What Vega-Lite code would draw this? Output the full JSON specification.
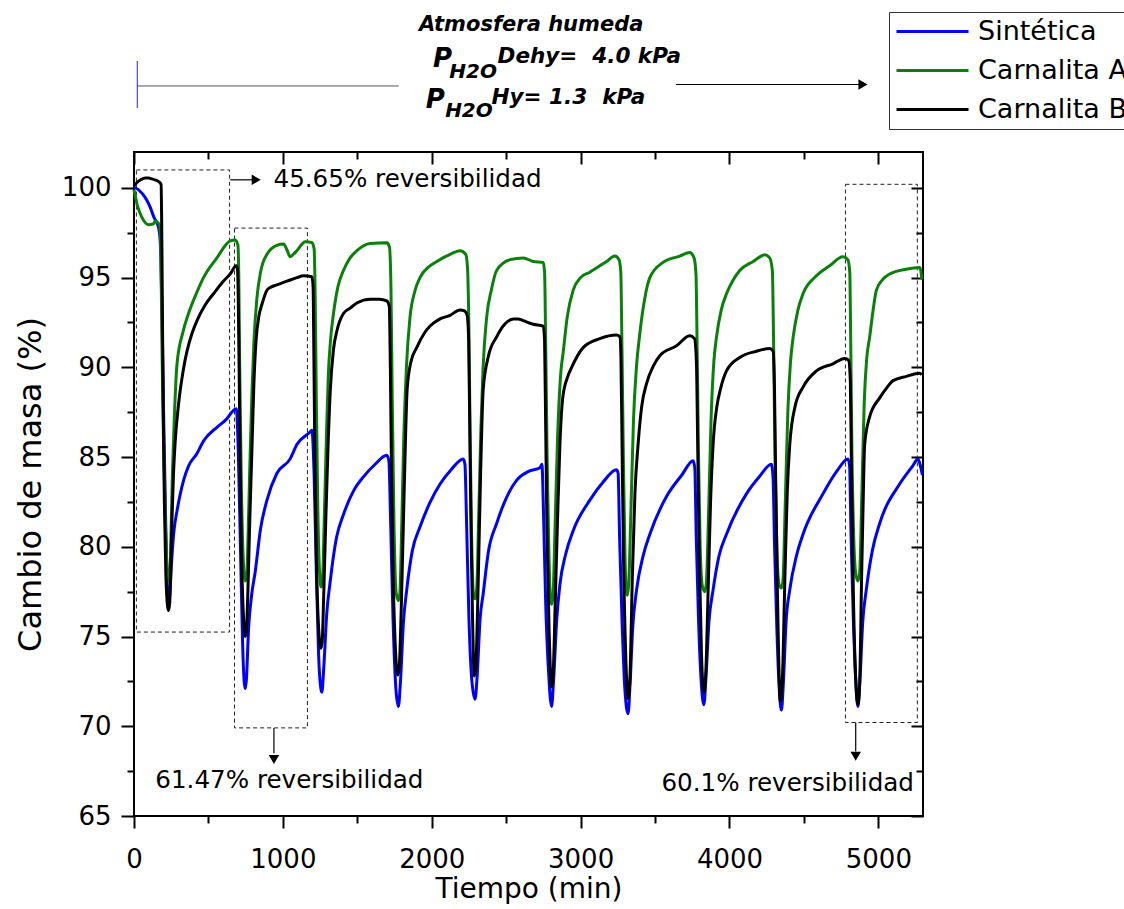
{
"$schema": "https://vega.github.io/schema/vega-lite/v6.json",
"width": 789, "height": 664,
"autosize": {"type": "none"},
"padding": {"left": 134, "top": 152, "right": 201, "bottom": 93},
"background": "white",
"config": {
 "view": {"stroke": "black", "strokeWidth": 2},
 "font": "DejaVu Sans",
 "axis": {"grid": false, "domain": false, "labelFlush": false, "tickColor": "black", "tickWidth": 2, "labelColor": "black", "titleColor": "black", "labelFont": "DejaVu Sans", "titleFont": "DejaVu Sans", "labelFontSize": 26, "titleFontSize": 28, "titleFontWeight": "normal"}
},
"datasets": {
 "curvas": [
{"serie":"Sintética","t":0,"v":100.0},{"serie":"Sintética","t":20,"v":99.95},{"serie":"Sintética","t":42,"v":99.8},{"serie":"Sintética","t":64,"v":99.6},{"serie":"Sintética","t":87,"v":99.3},{"serie":"Sintética","t":110,"v":98.9},{"serie":"Sintética","t":132,"v":98.4},{"serie":"Sintética","t":150,"v":98.1},{"serie":"Sintética","t":165,"v":97.8},{"serie":"Sintética","t":177,"v":96.9},{"serie":"Sintética","t":190,"v":92.0},{"serie":"Sintética","t":201,"v":86.5},{"serie":"Sintética","t":215,"v":80.5},{"serie":"Sintética","t":225,"v":77.5},{"serie":"Sintética","t":232,"v":76.7},{"serie":"Sintética","t":240,"v":77.3},{"serie":"Sintética","t":255,"v":79.5},{"serie":"Sintética","t":270,"v":81.0},{"serie":"Sintética","t":289,"v":82.0},{"serie":"Sintética","t":333,"v":83.7},{"serie":"Sintética","t":366,"v":84.5},{"serie":"Sintética","t":423,"v":85.2},{"serie":"Sintética","t":467,"v":85.9},{"serie":"Sintética","t":557,"v":86.66},{"serie":"Sintética","t":620,"v":87.1},{"serie":"Sintética","t":668,"v":87.6},{"serie":"Sintética","t":687,"v":87.7},{"serie":"Sintética","t":700,"v":85.5},{"serie":"Sintética","t":715,"v":80.0},{"serie":"Sintética","t":730,"v":74.5},{"serie":"Sintética","t":740,"v":72.5},{"serie":"Sintética","t":747,"v":72.1},{"serie":"Sintética","t":755,"v":72.6},{"serie":"Sintética","t":770,"v":75.5},{"serie":"Sintética","t":790,"v":77.3},{"serie":"Sintética","t":814,"v":78.6},{"serie":"Sintética","t":850,"v":81.0},{"serie":"Sintética","t":893,"v":82.6},{"serie":"Sintética","t":960,"v":84.1},{"serie":"Sintética","t":1049,"v":84.9},{"serie":"Sintética","t":1094,"v":85.7},{"serie":"Sintética","t":1183,"v":86.4},{"serie":"Sintética","t":1195,"v":86.5},{"serie":"Sintética","t":1210,"v":84.0},{"serie":"Sintética","t":1225,"v":78.5},{"serie":"Sintética","t":1240,"v":74.0},{"serie":"Sintética","t":1255,"v":72.1},{"serie":"Sintética","t":1262,"v":71.9},{"serie":"Sintética","t":1275,"v":73.3},{"serie":"Sintética","t":1295,"v":76.3},{"serie":"Sintética","t":1317,"v":78.0},{"serie":"Sintética","t":1360,"v":80.5},{"serie":"Sintética","t":1407,"v":81.8},{"serie":"Sintética","t":1480,"v":83.2},{"serie":"Sintética","t":1541,"v":83.9},{"serie":"Sintética","t":1620,"v":84.6},{"serie":"Sintética","t":1698,"v":85.1},{"serie":"Sintética","t":1712,"v":84.8},{"serie":"Sintética","t":1725,"v":81.0},{"serie":"Sintética","t":1740,"v":76.0},{"serie":"Sintética","t":1760,"v":72.0},{"serie":"Sintética","t":1776,"v":71.1},{"serie":"Sintética","t":1790,"v":72.5},{"serie":"Sintética","t":1810,"v":75.8},{"serie":"Sintética","t":1832,"v":77.6},{"serie":"Sintética","t":1870,"v":79.8},{"serie":"Sintética","t":1921,"v":81.1},{"serie":"Sintética","t":1990,"v":82.5},{"serie":"Sintética","t":2056,"v":83.5},{"serie":"Sintética","t":2130,"v":84.3},{"serie":"Sintética","t":2212,"v":84.9},{"serie":"Sintética","t":2223,"v":84.6},{"serie":"Sintética","t":2235,"v":81.0},{"serie":"Sintética","t":2250,"v":76.0},{"serie":"Sintética","t":2270,"v":72.5},{"serie":"Sintética","t":2291,"v":71.5},{"serie":"Sintética","t":2305,"v":72.8},{"serie":"Sintética","t":2325,"v":76.0},{"serie":"Sintética","t":2346,"v":77.4},{"serie":"Sintética","t":2380,"v":79.7},{"serie":"Sintética","t":2436,"v":81.3},{"serie":"Sintética","t":2500,"v":82.7},{"serie":"Sintética","t":2570,"v":83.7},{"serie":"Sintética","t":2650,"v":84.2},{"serie":"Sintética","t":2727,"v":84.4},{"serie":"Sintética","t":2740,"v":84.6},{"serie":"Sintética","t":2752,"v":81.5},{"serie":"Sintética","t":2765,"v":77.0},{"serie":"Sintética","t":2785,"v":73.0},{"serie":"Sintética","t":2805,"v":71.1},{"serie":"Sintética","t":2818,"v":72.5},{"serie":"Sintética","t":2840,"v":76.0},{"serie":"Sintética","t":2861,"v":77.9},{"serie":"Sintética","t":2900,"v":79.6},{"serie":"Sintética","t":2950,"v":80.9},{"serie":"Sintética","t":3062,"v":82.6},{"serie":"Sintética","t":3150,"v":83.6},{"serie":"Sintética","t":3241,"v":84.3},{"serie":"Sintética","t":3252,"v":84.1},{"serie":"Sintética","t":3262,"v":80.5},{"serie":"Sintética","t":3278,"v":76.0},{"serie":"Sintética","t":3298,"v":72.0},{"serie":"Sintética","t":3319,"v":70.7},{"serie":"Sintética","t":3332,"v":72.3},{"serie":"Sintética","t":3350,"v":75.5},{"serie":"Sintética","t":3376,"v":77.6},{"serie":"Sintética","t":3420,"v":79.5},{"serie":"Sintética","t":3465,"v":80.7},{"serie":"Sintética","t":3577,"v":82.8},{"serie":"Sintética","t":3680,"v":84.0},{"serie":"Sintética","t":3756,"v":84.8},{"serie":"Sintética","t":3767,"v":84.4},{"serie":"Sintética","t":3777,"v":80.5},{"serie":"Sintética","t":3792,"v":76.0},{"serie":"Sintética","t":3810,"v":72.5},{"serie":"Sintética","t":3828,"v":71.2},{"serie":"Sintética","t":3842,"v":72.7},{"serie":"Sintética","t":3862,"v":75.8},{"serie":"Sintética","t":3890,"v":77.6},{"serie":"Sintética","t":3930,"v":79.5},{"serie":"Sintética","t":3980,"v":80.7},{"serie":"Sintética","t":4114,"v":82.95},{"serie":"Sintética","t":4200,"v":83.9},{"serie":"Sintética","t":4282,"v":84.6},{"serie":"Sintética","t":4293,"v":83.8},{"serie":"Sintética","t":4303,"v":80.0},{"serie":"Sintética","t":4318,"v":75.5},{"serie":"Sintética","t":4335,"v":72.0},{"serie":"Sintética","t":4349,"v":70.9},{"serie":"Sintética","t":4362,"v":72.4},{"serie":"Sintética","t":4380,"v":75.8},{"serie":"Sintética","t":4405,"v":77.6},{"serie":"Sintética","t":4450,"v":79.5},{"serie":"Sintética","t":4494,"v":80.7},{"serie":"Sintética","t":4628,"v":82.95},{"serie":"Sintética","t":4720,"v":84.2},{"serie":"Sintética","t":4796,"v":84.9},{"serie":"Sintética","t":4807,"v":84.5},{"serie":"Sintética","t":4817,"v":80.5},{"serie":"Sintética","t":4832,"v":76.0},{"serie":"Sintética","t":4850,"v":72.3},{"serie":"Sintética","t":4863,"v":71.1},{"serie":"Sintética","t":4876,"v":72.5},{"serie":"Sintética","t":4895,"v":75.8},{"serie":"Sintética","t":4919,"v":77.6},{"serie":"Sintética","t":4960,"v":79.8},{"serie":"Sintética","t":5009,"v":81.3},{"serie":"Sintética","t":5143,"v":83.5},{"serie":"Sintética","t":5230,"v":84.5},{"serie":"Sintética","t":5266,"v":84.9},{"serie":"Sintética","t":5280,"v":84.6},{"serie":"Sintética","t":5296,"v":84.0},
{"serie":"Carnalita A","t":0,"v":99.9},{"serie":"Carnalita A","t":10,"v":99.5},{"serie":"Carnalita A","t":20,"v":99.1},{"serie":"Carnalita A","t":40,"v":98.6},{"serie":"Carnalita A","t":64,"v":98.2},{"serie":"Carnalita A","t":98,"v":97.95},{"serie":"Carnalita A","t":130,"v":98.0},{"serie":"Carnalita A","t":143,"v":98.16},{"serie":"Carnalita A","t":155,"v":98.1},{"serie":"Carnalita A","t":170,"v":97.95},{"serie":"Carnalita A","t":178,"v":97.5},{"serie":"Carnalita A","t":184,"v":94.0},{"serie":"Carnalita A","t":190,"v":90.0},{"serie":"Carnalita A","t":200,"v":85.0},{"serie":"Carnalita A","t":212,"v":81.0},{"serie":"Carnalita A","t":222,"v":78.8},{"serie":"Carnalita A","t":232,"v":78.1},{"serie":"Carnalita A","t":240,"v":78.3},{"serie":"Carnalita A","t":248,"v":80.5},{"serie":"Carnalita A","t":258,"v":84.0},{"serie":"Carnalita A","t":270,"v":87.0},{"serie":"Carnalita A","t":289,"v":90.2},{"serie":"Carnalita A","t":330,"v":92.0},{"serie":"Carnalita A","t":366,"v":93.0},{"serie":"Carnalita A","t":423,"v":94.2},{"serie":"Carnalita A","t":467,"v":95.0},{"serie":"Carnalita A","t":557,"v":96.1},{"serie":"Carnalita A","t":646,"v":97.05},{"serie":"Carnalita A","t":680,"v":97.1},{"serie":"Carnalita A","t":698,"v":96.8},{"serie":"Carnalita A","t":704,"v":95.0},{"serie":"Carnalita A","t":710,"v":90.0},{"serie":"Carnalita A","t":720,"v":84.0},{"serie":"Carnalita A","t":733,"v":79.5},{"serie":"Carnalita A","t":747,"v":78.1},{"serie":"Carnalita A","t":757,"v":78.3},{"serie":"Carnalita A","t":766,"v":80.5},{"serie":"Carnalita A","t":778,"v":84.5},{"serie":"Carnalita A","t":792,"v":88.5},{"serie":"Carnalita A","t":806,"v":91.5},{"serie":"Carnalita A","t":825,"v":93.8},{"serie":"Carnalita A","t":850,"v":95.3},{"serie":"Carnalita A","t":893,"v":96.3},{"serie":"Carnalita A","t":960,"v":96.8},{"serie":"Carnalita A","t":1004,"v":96.87},{"serie":"Carnalita A","t":1030,"v":96.5},{"serie":"Carnalita A","t":1049,"v":96.16},{"serie":"Carnalita A","t":1070,"v":96.3},{"serie":"Carnalita A","t":1094,"v":96.5},{"serie":"Carnalita A","t":1150,"v":97.0},{"serie":"Carnalita A","t":1195,"v":96.96},{"serie":"Carnalita A","t":1210,"v":96.6},{"serie":"Carnalita A","t":1217,"v":94.0},{"serie":"Carnalita A","t":1225,"v":88.0},{"serie":"Carnalita A","t":1235,"v":82.0},{"serie":"Carnalita A","t":1247,"v":78.5},{"serie":"Carnalita A","t":1257,"v":77.76},{"serie":"Carnalita A","t":1266,"v":78.1},{"serie":"Carnalita A","t":1278,"v":81.5},{"serie":"Carnalita A","t":1292,"v":86.0},{"serie":"Carnalita A","t":1305,"v":89.5},{"serie":"Carnalita A","t":1320,"v":91.5},{"serie":"Carnalita A","t":1340,"v":93.0},{"serie":"Carnalita A","t":1370,"v":94.5},{"serie":"Carnalita A","t":1407,"v":95.4},{"serie":"Carnalita A","t":1452,"v":96.1},{"serie":"Carnalita A","t":1497,"v":96.5},{"serie":"Carnalita A","t":1586,"v":96.9},{"serie":"Carnalita A","t":1698,"v":96.94},{"serie":"Carnalita A","t":1716,"v":96.7},{"serie":"Carnalita A","t":1726,"v":94.5},{"serie":"Carnalita A","t":1735,"v":88.0},{"serie":"Carnalita A","t":1746,"v":81.5},{"serie":"Carnalita A","t":1760,"v":77.5},{"serie":"Carnalita A","t":1776,"v":77.0},{"serie":"Carnalita A","t":1786,"v":77.4},{"serie":"Carnalita A","t":1798,"v":81.0},{"serie":"Carnalita A","t":1812,"v":86.0},{"serie":"Carnalita A","t":1830,"v":90.0},{"serie":"Carnalita A","t":1854,"v":92.8},{"serie":"Carnalita A","t":1885,"v":94.2},{"serie":"Carnalita A","t":1921,"v":95.0},{"serie":"Carnalita A","t":1980,"v":95.6},{"serie":"Carnalita A","t":2034,"v":95.9},{"serie":"Carnalita A","t":2123,"v":96.3},{"serie":"Carnalita A","t":2190,"v":96.5},{"serie":"Carnalita A","t":2228,"v":96.3},{"serie":"Carnalita A","t":2240,"v":95.6},{"serie":"Carnalita A","t":2250,"v":92.0},{"serie":"Carnalita A","t":2258,"v":86.0},{"serie":"Carnalita A","t":2268,"v":80.5},{"serie":"Carnalita A","t":2280,"v":77.4},{"serie":"Carnalita A","t":2291,"v":77.1},{"serie":"Carnalita A","t":2302,"v":77.6},{"serie":"Carnalita A","t":2315,"v":81.5},{"serie":"Carnalita A","t":2330,"v":86.5},{"serie":"Carnalita A","t":2345,"v":90.0},{"serie":"Carnalita A","t":2369,"v":92.8},{"serie":"Carnalita A","t":2400,"v":94.3},{"serie":"Carnalita A","t":2436,"v":95.4},{"serie":"Carnalita A","t":2526,"v":96.0},{"serie":"Carnalita A","t":2615,"v":96.1},{"serie":"Carnalita A","t":2682,"v":95.9},{"serie":"Carnalita A","t":2749,"v":95.85},{"serie":"Carnalita A","t":2758,"v":95.3},{"serie":"Carnalita A","t":2766,"v":91.0},{"serie":"Carnalita A","t":2775,"v":85.0},{"serie":"Carnalita A","t":2786,"v":80.0},{"serie":"Carnalita A","t":2797,"v":77.2},{"serie":"Carnalita A","t":2805,"v":76.8},{"serie":"Carnalita A","t":2815,"v":77.3},{"serie":"Carnalita A","t":2828,"v":81.0},{"serie":"Carnalita A","t":2845,"v":86.0},{"serie":"Carnalita A","t":2865,"v":89.5},{"serie":"Carnalita A","t":2884,"v":90.9},{"serie":"Carnalita A","t":2910,"v":92.8},{"serie":"Carnalita A","t":2950,"v":94.3},{"serie":"Carnalita A","t":3000,"v":95.0},{"serie":"Carnalita A","t":3062,"v":95.3},{"serie":"Carnalita A","t":3174,"v":95.9},{"serie":"Carnalita A","t":3230,"v":96.2},{"serie":"Carnalita A","t":3258,"v":96.0},{"serie":"Carnalita A","t":3270,"v":95.3},{"serie":"Carnalita A","t":3278,"v":91.0},{"serie":"Carnalita A","t":3287,"v":85.0},{"serie":"Carnalita A","t":3297,"v":80.0},{"serie":"Carnalita A","t":3306,"v":77.6},{"serie":"Carnalita A","t":3313,"v":77.3},{"serie":"Carnalita A","t":3323,"v":77.9},{"serie":"Carnalita A","t":3338,"v":82.0},{"serie":"Carnalita A","t":3355,"v":87.0},{"serie":"Carnalita A","t":3375,"v":90.0},{"serie":"Carnalita A","t":3398,"v":91.9},{"serie":"Carnalita A","t":3430,"v":93.8},{"serie":"Carnalita A","t":3465,"v":95.0},{"serie":"Carnalita A","t":3554,"v":95.85},{"serie":"Carnalita A","t":3666,"v":96.2},{"serie":"Carnalita A","t":3733,"v":96.4},{"serie":"Carnalita A","t":3762,"v":96.1},{"serie":"Carnalita A","t":3775,"v":95.2},{"serie":"Carnalita A","t":3783,"v":91.0},{"serie":"Carnalita A","t":3792,"v":85.0},{"serie":"Carnalita A","t":3803,"v":80.0},{"serie":"Carnalita A","t":3818,"v":77.8},{"serie":"Carnalita A","t":3834,"v":77.5},{"serie":"Carnalita A","t":3845,"v":78.0},{"serie":"Carnalita A","t":3860,"v":82.0},{"serie":"Carnalita A","t":3876,"v":87.0},{"serie":"Carnalita A","t":3895,"v":90.3},{"serie":"Carnalita A","t":3913,"v":91.7},{"serie":"Carnalita A","t":3945,"v":93.2},{"serie":"Carnalita A","t":3980,"v":94.1},{"serie":"Carnalita A","t":4020,"v":94.8},{"serie":"Carnalita A","t":4069,"v":95.4},{"serie":"Carnalita A","t":4159,"v":95.9},{"serie":"Carnalita A","t":4237,"v":96.27},{"serie":"Carnalita A","t":4270,"v":96.1},{"serie":"Carnalita A","t":4288,"v":95.4},{"serie":"Carnalita A","t":4297,"v":91.0},{"serie":"Carnalita A","t":4306,"v":85.0},{"serie":"Carnalita A","t":4318,"v":80.0},{"serie":"Carnalita A","t":4333,"v":77.9},{"serie":"Carnalita A","t":4349,"v":77.7},{"serie":"Carnalita A","t":4360,"v":78.2},{"serie":"Carnalita A","t":4375,"v":82.5},{"serie":"Carnalita A","t":4392,"v":87.5},{"serie":"Carnalita A","t":4410,"v":90.3},{"serie":"Carnalita A","t":4428,"v":91.7},{"serie":"Carnalita A","t":4460,"v":93.2},{"serie":"Carnalita A","t":4494,"v":94.1},{"serie":"Carnalita A","t":4584,"v":95.1},{"serie":"Carnalita A","t":4673,"v":95.66},{"serie":"Carnalita A","t":4762,"v":96.16},{"serie":"Carnalita A","t":4795,"v":96.0},{"serie":"Carnalita A","t":4808,"v":95.3},{"serie":"Carnalita A","t":4815,"v":91.0},{"serie":"Carnalita A","t":4823,"v":85.0},{"serie":"Carnalita A","t":4833,"v":81.0},{"serie":"Carnalita A","t":4848,"v":78.5},{"serie":"Carnalita A","t":4863,"v":78.1},{"serie":"Carnalita A","t":4875,"v":78.6},{"serie":"Carnalita A","t":4888,"v":82.5},{"serie":"Carnalita A","t":4905,"v":88.0},{"serie":"Carnalita A","t":4922,"v":90.5},{"serie":"Carnalita A","t":4942,"v":91.7},{"serie":"Carnalita A","t":4965,"v":93.2},{"serie":"Carnalita A","t":4987,"v":94.3},{"serie":"Carnalita A","t":5030,"v":94.9},{"serie":"Carnalita A","t":5076,"v":95.2},{"serie":"Carnalita A","t":5188,"v":95.47},{"serie":"Carnalita A","t":5277,"v":95.56},{"serie":"Carnalita A","t":5285,"v":95.4},{"serie":"Carnalita A","t":5292,"v":94.9},
{"serie":"Carnalita B","t":0,"v":100.1},{"serie":"Carnalita B","t":20,"v":100.3},{"serie":"Carnalita B","t":45,"v":100.45},{"serie":"Carnalita B","t":75,"v":100.55},{"serie":"Carnalita B","t":98,"v":100.55},{"serie":"Carnalita B","t":120,"v":100.5},{"serie":"Carnalita B","t":140,"v":100.45},{"serie":"Carnalita B","t":165,"v":100.35},{"serie":"Carnalita B","t":182,"v":100.2},{"serie":"Carnalita B","t":186,"v":98.0},{"serie":"Carnalita B","t":190,"v":94.0},{"serie":"Carnalita B","t":196,"v":88.0},{"serie":"Carnalita B","t":204,"v":82.5},{"serie":"Carnalita B","t":214,"v":78.5},{"serie":"Carnalita B","t":224,"v":76.8},{"serie":"Carnalita B","t":232,"v":76.45},{"serie":"Carnalita B","t":240,"v":76.9},{"serie":"Carnalita B","t":246,"v":78.5},{"serie":"Carnalita B","t":255,"v":81.5},{"serie":"Carnalita B","t":265,"v":84.0},{"serie":"Carnalita B","t":277,"v":85.9},{"serie":"Carnalita B","t":300,"v":88.0},{"serie":"Carnalita B","t":330,"v":89.8},{"serie":"Carnalita B","t":356,"v":90.9},{"serie":"Carnalita B","t":390,"v":91.9},{"serie":"Carnalita B","t":423,"v":92.6},{"serie":"Carnalita B","t":480,"v":93.5},{"serie":"Carnalita B","t":534,"v":94.1},{"serie":"Carnalita B","t":600,"v":94.8},{"serie":"Carnalita B","t":646,"v":95.2},{"serie":"Carnalita B","t":687,"v":95.66},{"serie":"Carnalita B","t":695,"v":95.5},{"serie":"Carnalita B","t":700,"v":94.0},{"serie":"Carnalita B","t":706,"v":90.0},{"serie":"Carnalita B","t":714,"v":84.0},{"serie":"Carnalita B","t":724,"v":79.0},{"serie":"Carnalita B","t":736,"v":76.0},{"serie":"Carnalita B","t":747,"v":75.0},{"serie":"Carnalita B","t":756,"v":75.5},{"serie":"Carnalita B","t":765,"v":77.5},{"serie":"Carnalita B","t":776,"v":81.0},{"serie":"Carnalita B","t":792,"v":85.4},{"serie":"Carnalita B","t":805,"v":89.0},{"serie":"Carnalita B","t":820,"v":91.5},{"serie":"Carnalita B","t":840,"v":92.9},{"serie":"Carnalita B","t":859,"v":93.5},{"serie":"Carnalita B","t":893,"v":94.3},{"serie":"Carnalita B","t":915,"v":94.45},{"serie":"Carnalita B","t":960,"v":94.6},{"serie":"Carnalita B","t":1027,"v":94.8},{"serie":"Carnalita B","t":1094,"v":95.0},{"serie":"Carnalita B","t":1138,"v":95.1},{"serie":"Carnalita B","t":1195,"v":95.05},{"serie":"Carnalita B","t":1203,"v":94.5},{"serie":"Carnalita B","t":1208,"v":91.0},{"serie":"Carnalita B","t":1215,"v":85.0},{"serie":"Carnalita B","t":1225,"v":79.5},{"serie":"Carnalita B","t":1240,"v":75.5},{"serie":"Carnalita B","t":1255,"v":74.35},{"serie":"Carnalita B","t":1264,"v":74.7},{"serie":"Carnalita B","t":1275,"v":77.5},{"serie":"Carnalita B","t":1290,"v":82.0},{"serie":"Carnalita B","t":1305,"v":86.0},{"serie":"Carnalita B","t":1317,"v":88.5},{"serie":"Carnalita B","t":1340,"v":91.0},{"serie":"Carnalita B","t":1362,"v":92.0},{"serie":"Carnalita B","t":1407,"v":93.0},{"serie":"Carnalita B","t":1452,"v":93.3},{"serie":"Carnalita B","t":1500,"v":93.6},{"serie":"Carnalita B","t":1586,"v":93.8},{"serie":"Carnalita B","t":1650,"v":93.8},{"serie":"Carnalita B","t":1698,"v":93.7},{"serie":"Carnalita B","t":1715,"v":93.4},{"serie":"Carnalita B","t":1722,"v":90.0},{"serie":"Carnalita B","t":1730,"v":84.0},{"serie":"Carnalita B","t":1742,"v":78.0},{"serie":"Carnalita B","t":1758,"v":74.0},{"serie":"Carnalita B","t":1772,"v":72.85},{"serie":"Carnalita B","t":1782,"v":73.3},{"serie":"Carnalita B","t":1795,"v":76.5},{"serie":"Carnalita B","t":1810,"v":81.5},{"serie":"Carnalita B","t":1822,"v":85.5},{"serie":"Carnalita B","t":1835,"v":88.8},{"serie":"Carnalita B","t":1860,"v":90.3},{"serie":"Carnalita B","t":1899,"v":91.1},{"serie":"Carnalita B","t":1950,"v":91.9},{"serie":"Carnalita B","t":1989,"v":92.3},{"serie":"Carnalita B","t":2056,"v":92.7},{"serie":"Carnalita B","t":2123,"v":92.9},{"serie":"Carnalita B","t":2190,"v":93.2},{"serie":"Carnalita B","t":2220,"v":93.15},{"serie":"Carnalita B","t":2238,"v":92.9},{"serie":"Carnalita B","t":2248,"v":91.5},{"serie":"Carnalita B","t":2255,"v":87.0},{"serie":"Carnalita B","t":2263,"v":81.5},{"serie":"Carnalita B","t":2273,"v":76.5},{"serie":"Carnalita B","t":2286,"v":72.8},{"serie":"Carnalita B","t":2297,"v":73.5},{"serie":"Carnalita B","t":2312,"v":78.0},{"serie":"Carnalita B","t":2328,"v":84.0},{"serie":"Carnalita B","t":2346,"v":88.8},{"serie":"Carnalita B","t":2380,"v":90.6},{"serie":"Carnalita B","t":2436,"v":91.7},{"serie":"Carnalita B","t":2490,"v":92.4},{"serie":"Carnalita B","t":2548,"v":92.7},{"serie":"Carnalita B","t":2580,"v":92.7},{"serie":"Carnalita B","t":2615,"v":92.6},{"serie":"Carnalita B","t":2682,"v":92.4},{"serie":"Carnalita B","t":2749,"v":92.3},{"serie":"Carnalita B","t":2758,"v":91.5},{"serie":"Carnalita B","t":2765,"v":87.0},{"serie":"Carnalita B","t":2774,"v":81.0},{"serie":"Carnalita B","t":2788,"v":75.5},{"serie":"Carnalita B","t":2805,"v":72.2},{"serie":"Carnalita B","t":2816,"v":73.0},{"serie":"Carnalita B","t":2830,"v":77.0},{"serie":"Carnalita B","t":2845,"v":81.5},{"serie":"Carnalita B","t":2861,"v":85.7},{"serie":"Carnalita B","t":2880,"v":88.3},{"serie":"Carnalita B","t":2910,"v":89.4},{"serie":"Carnalita B","t":2940,"v":90.0},{"serie":"Carnalita B","t":3017,"v":91.1},{"serie":"Carnalita B","t":3129,"v":91.6},{"serie":"Carnalita B","t":3241,"v":91.8},{"serie":"Carnalita B","t":3264,"v":91.7},{"serie":"Carnalita B","t":3271,"v":90.5},{"serie":"Carnalita B","t":3278,"v":86.0},{"serie":"Carnalita B","t":3288,"v":79.5},{"serie":"Carnalita B","t":3303,"v":74.0},{"serie":"Carnalita B","t":3319,"v":71.55},{"serie":"Carnalita B","t":3331,"v":72.6},{"serie":"Carnalita B","t":3348,"v":78.5},{"serie":"Carnalita B","t":3365,"v":83.0},{"serie":"Carnalita B","t":3386,"v":85.7},{"serie":"Carnalita B","t":3410,"v":87.8},{"serie":"Carnalita B","t":3443,"v":89.1},{"serie":"Carnalita B","t":3490,"v":90.1},{"serie":"Carnalita B","t":3532,"v":90.65},{"serie":"Carnalita B","t":3644,"v":91.2},{"serie":"Carnalita B","t":3733,"v":91.76},{"serie":"Carnalita B","t":3765,"v":91.6},{"serie":"Carnalita B","t":3778,"v":90.3},{"serie":"Carnalita B","t":3786,"v":86.0},{"serie":"Carnalita B","t":3797,"v":79.5},{"serie":"Carnalita B","t":3812,"v":74.0},{"serie":"Carnalita B","t":3828,"v":71.9},{"serie":"Carnalita B","t":3840,"v":72.8},{"serie":"Carnalita B","t":3858,"v":78.0},{"serie":"Carnalita B","t":3873,"v":82.5},{"serie":"Carnalita B","t":3890,"v":85.7},{"serie":"Carnalita B","t":3915,"v":87.8},{"serie":"Carnalita B","t":3940,"v":88.8},{"serie":"Carnalita B","t":3980,"v":89.8},{"serie":"Carnalita B","t":4069,"v":90.55},{"serie":"Carnalita B","t":4181,"v":90.9},{"serie":"Carnalita B","t":4270,"v":91.05},{"serie":"Carnalita B","t":4293,"v":90.9},{"serie":"Carnalita B","t":4302,"v":89.0},{"serie":"Carnalita B","t":4310,"v":84.0},{"serie":"Carnalita B","t":4322,"v":77.5},{"serie":"Carnalita B","t":4342,"v":71.4},{"serie":"Carnalita B","t":4355,"v":72.5},{"serie":"Carnalita B","t":4373,"v":78.5},{"serie":"Carnalita B","t":4388,"v":83.0},{"serie":"Carnalita B","t":4405,"v":85.7},{"serie":"Carnalita B","t":4440,"v":87.8},{"serie":"Carnalita B","t":4494,"v":88.9},{"serie":"Carnalita B","t":4584,"v":89.8},{"serie":"Carnalita B","t":4695,"v":90.2},{"serie":"Carnalita B","t":4774,"v":90.5},{"serie":"Carnalita B","t":4800,"v":90.4},{"serie":"Carnalita B","t":4812,"v":89.2},{"serie":"Carnalita B","t":4819,"v":84.5},{"serie":"Carnalita B","t":4832,"v":77.5},{"serie":"Carnalita B","t":4848,"v":72.6},{"serie":"Carnalita B","t":4863,"v":71.2},{"serie":"Carnalita B","t":4875,"v":72.5},{"serie":"Carnalita B","t":4888,"v":78.5},{"serie":"Carnalita B","t":4898,"v":82.5},{"serie":"Carnalita B","t":4908,"v":85.7},{"serie":"Carnalita B","t":4940,"v":87.2},{"serie":"Carnalita B","t":5009,"v":88.3},{"serie":"Carnalita B","t":5060,"v":88.9},{"serie":"Carnalita B","t":5099,"v":89.26},{"serie":"Carnalita B","t":5188,"v":89.5},{"serie":"Carnalita B","t":5277,"v":89.67},{"serie":"Carnalita B","t":5292,"v":89.6}
 ],
 "cajas": [
  {"t0": 16, "t1": 642, "v0": 101.0, "v1": 75.25},
  {"t0": 675, "t1": 1165, "v0": 97.76, "v1": 69.91},
  {"t0": 4779, "t1": 5262, "v0": 100.2, "v1": 70.21}
 ],
 "notas": [
  {"t": 937, "v": 100.45, "label": "45.65% reversibilidad"},
  {"t": 143, "v": 66.93, "label": "61.47% reversibilidad"},
  {"t": 3543, "v": 66.77, "label": "60.1% reversibilidad"}
 ],
 "flechas": [
  {"t0": 646, "t1": 800, "v0": 100.45, "v1": 100.45},
  {"t0": 940, "t1": 940, "v0": 69.91, "v1": 68.5},
  {"t0": 4848, "t1": 4848, "v0": 70.21, "v1": 68.6},
  {"t0": 3640, "t1": 4870, "v0": 105.76, "v1": 105.76}
 ],
 "linea_gris": [{"t0": 22, "t1": 1778, "v0": 105.68, "v1": 105.68}],
 "linea_azul": [{"t0": 22, "t1": 22, "v0": 107.07, "v1": 104.45}],
 "puntas_der": [{"t": 821, "v": 100.45}, {"t": 4897, "v": 105.76}],
 "puntas_abajo": [{"t": 940, "v": 68.15}, {"t": 4848, "v": 68.33}],
 "titulo": [{"t": 2668, "v": 109.1, "label": "Atmosfera humeda"}],
 "letra_p": [{"t": 2008, "v": 107.2, "label": "P"}, {"t": 1960, "v": 104.92, "label": "P"}],
 "subindice": [{"t": 2118, "v": 106.45, "label": "H2O"}, {"t": 2090, "v": 104.3, "label": "H2O"}],
 "presiones": [{"t": 2442, "v": 107.27, "label": "Dehy=\u00a0 4.0 kPa"}, {"t": 2402, "v": 105.02, "label": "Hy= 1.3\u00a0 kPa"}]
},
"layer": [
 {
  "data": {"name": "cajas"},
  "mark": {"type": "rect", "fill": "white", "fillOpacity": 0, "stroke": "#222222", "strokeWidth": 1, "strokeDash": [4, 3]},
  "encoding": {
   "x": {"field": "t0", "type": "quantitative", "scale": {"domain": [0, 5300], "nice": false, "zero": false}, "axis": {"orient": "bottom", "values": [500, 1500, 2500, 3500, 4500], "tickSize": 7, "labels": false, "title": null}},
   "x2": {"field": "t1"},
   "y": {"field": "v0", "type": "quantitative", "scale": {"domain": [65, 102], "nice": false, "zero": false}, "axis": {"orient": "left", "values": [67.5, 72.5, 77.5, 82.5, 87.5, 92.5, 97.5], "tickSize": 7, "labels": false, "title": null}},
   "y2": {"field": "v1"}
  }
 },
 {
  "data": {"name": "curvas"},
  "mark": {"type": "line", "strokeWidth": 3, "interpolate": "monotone"},
  "encoding": {
   "x": {"field": "t", "type": "quantitative", "scale": {"domain": [0, 5300], "nice": false, "zero": false}, "axis": {"orient": "bottom", "values": [0, 1000, 2000, 3000, 4000, 5000], "format": "d", "tickSize": 12, "labelPadding": 18, "title": "Tiempo (min)", "titlePadding": 3}},
   "y": {"field": "v", "type": "quantitative", "scale": {"domain": [65, 102], "nice": false, "zero": false}, "axis": {"orient": "left", "values": [65, 70, 75, 80, 85, 90, 95, 100], "format": "d", "tickSize": 13, "labelPadding": 10, "title": "Cambio de masa (%)", "titleFontSize": 32, "titlePadding": 14}},
   "color": {"field": "serie", "type": "nominal", "sort": ["Sintética", "Carnalita A", "Carnalita B"], "scale": {"domain": ["Sintética", "Carnalita A", "Carnalita B"], "range": ["#0000ff", "#0a800a", "#000000"]},
    "legend": {"title": null, "orient": "none", "legendX": 755, "legendY": -140, "symbolType": "M-4,0H4", "symbolSize": 324, "symbolOffset": 24, "symbolStrokeWidth": 3, "labelFontSize": 27, "labelFont": "DejaVu Sans", "labelColor": "black", "labelOffset": 32, "rowPadding": 11, "padding": 6, "strokeColor": "#333333", "fillColor": "white", "labelLimit": 500}}
  }
 },
 {
  "data": {"name": "notas"},
  "mark": {"type": "text", "align": "left", "baseline": "middle", "fontSize": 24.6, "font": "DejaVu Sans", "color": "black"},
  "encoding": {
   "x": {"field": "t", "type": "quantitative", "scale": {"domain": [0, 5300], "nice": false, "zero": false}, "axis": {"orient": "top", "values": [0, 1000, 2000, 3000, 4000, 5000], "tickSize": -12, "labels": false, "title": null}},
   "y": {"field": "v", "type": "quantitative", "scale": {"domain": [65, 102], "nice": false, "zero": false}, "axis": {"orient": "right", "values": [65, 70, 75, 80, 85, 90, 95, 100], "tickSize": -12, "labels": false, "title": null}},
   "text": {"field": "label"}
  }
 },
 {
  "data": {"name": "flechas"},
  "mark": {"type": "rule", "color": "black", "strokeWidth": 1.2},
  "encoding": {
   "x": {"field": "t0", "type": "quantitative", "scale": {"domain": [0, 5300], "nice": false, "zero": false}, "axis": {"orient": "top", "values": [500, 1500, 2500, 3500, 4500], "tickSize": -7, "labels": false, "title": null}},
   "x2": {"field": "t1"},
   "y": {"field": "v0", "type": "quantitative", "scale": {"domain": [65, 102], "nice": false, "zero": false}, "axis": {"orient": "right", "values": [67.5, 72.5, 77.5, 82.5, 87.5, 92.5, 97.5], "tickSize": -7, "labels": false, "title": null}},
   "y2": {"field": "v1"}
  }
 },
 {
  "data": {"name": "linea_gris"},
  "mark": {"type": "rule", "color": "#555555", "strokeWidth": 1},
  "encoding": {
   "x": {"field": "t0", "type": "quantitative", "scale": {"domain": [0, 5300], "nice": false, "zero": false}, "axis": null},
   "x2": {"field": "t1"},
   "y": {"field": "v0", "type": "quantitative", "scale": {"domain": [65, 102], "nice": false, "zero": false}, "axis": null},
   "y2": {"field": "v1"}
  }
 },
 {
  "data": {"name": "linea_azul"},
  "mark": {"type": "rule", "color": "#2222cc", "strokeWidth": 1},
  "encoding": {
   "x": {"field": "t0", "type": "quantitative", "scale": {"domain": [0, 5300], "nice": false, "zero": false}, "axis": null},
   "x2": {"field": "t1"},
   "y": {"field": "v0", "type": "quantitative", "scale": {"domain": [65, 102], "nice": false, "zero": false}, "axis": null},
   "y2": {"field": "v1"}
  }
 },
 {
  "data": {"name": "puntas_der"},
  "mark": {"type": "point", "shape": "triangle-right", "filled": true, "color": "black", "size": 110, "opacity": 1},
  "encoding": {
   "x": {"field": "t", "type": "quantitative", "scale": {"domain": [0, 5300], "nice": false, "zero": false}, "axis": null},
   "y": {"field": "v", "type": "quantitative", "scale": {"domain": [65, 102], "nice": false, "zero": false}, "axis": null}
  }
 },
 {
  "data": {"name": "puntas_abajo"},
  "mark": {"type": "point", "shape": "triangle-down", "filled": true, "color": "black", "size": 110, "opacity": 1},
  "encoding": {
   "x": {"field": "t", "type": "quantitative", "scale": {"domain": [0, 5300], "nice": false, "zero": false}, "axis": null},
   "y": {"field": "v", "type": "quantitative", "scale": {"domain": [65, 102], "nice": false, "zero": false}, "axis": null}
  }
 },
 {
  "data": {"name": "titulo"},
  "mark": {"type": "text", "align": "center", "baseline": "middle", "fontSize": 21, "font": "DejaVu Sans", "fontWeight": "bold", "fontStyle": "italic", "color": "black"},
  "encoding": {
   "x": {"field": "t", "type": "quantitative", "scale": {"domain": [0, 5300], "nice": false, "zero": false}, "axis": null},
   "y": {"field": "v", "type": "quantitative", "scale": {"domain": [65, 102], "nice": false, "zero": false}, "axis": null},
   "text": {"field": "label"}
  }
 },
 {
  "data": {"name": "letra_p"},
  "mark": {"type": "text", "align": "left", "baseline": "middle", "fontSize": 26, "font": "DejaVu Sans", "fontWeight": "bold", "fontStyle": "italic", "color": "black"},
  "encoding": {
   "x": {"field": "t", "type": "quantitative", "scale": {"domain": [0, 5300], "nice": false, "zero": false}, "axis": null},
   "y": {"field": "v", "type": "quantitative", "scale": {"domain": [65, 102], "nice": false, "zero": false}, "axis": null},
   "text": {"field": "label"}
  }
 },
 {
  "data": {"name": "subindice"},
  "mark": {"type": "text", "align": "left", "baseline": "middle", "fontSize": 20, "font": "DejaVu Sans", "fontWeight": "bold", "fontStyle": "italic", "color": "black"},
  "encoding": {
   "x": {"field": "t", "type": "quantitative", "scale": {"domain": [0, 5300], "nice": false, "zero": false}, "axis": null},
   "y": {"field": "v", "type": "quantitative", "scale": {"domain": [65, 102], "nice": false, "zero": false}, "axis": null},
   "text": {"field": "label"}
  }
 },
 {
  "data": {"name": "presiones"},
  "mark": {"type": "text", "align": "left", "baseline": "middle", "fontSize": 21.5, "font": "DejaVu Sans", "fontWeight": "bold", "fontStyle": "italic", "color": "black"},
  "encoding": {
   "x": {"field": "t", "type": "quantitative", "scale": {"domain": [0, 5300], "nice": false, "zero": false}, "axis": null},
   "y": {"field": "v", "type": "quantitative", "scale": {"domain": [65, 102], "nice": false, "zero": false}, "axis": null},
   "text": {"field": "label"}
  }
 }
],
"resolve": {"axis": {"x": "independent", "y": "independent"}}
}
